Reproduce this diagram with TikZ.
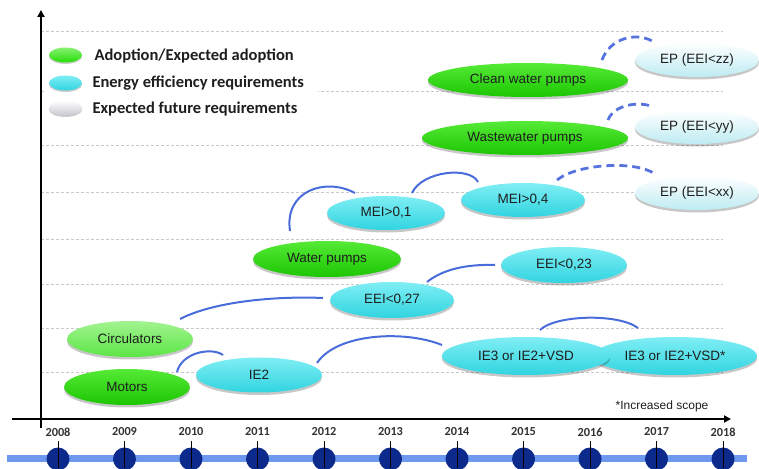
\documentclass[tikz,border=0pt]{standalone}
\usepackage{fontspec}
\setmainfont{Liberation Sans}
\newfontfamily\calib{Carlito}
\usetikzlibrary{shapes.geometric,arrows.meta,shadows,calc}
\definecolor{arcblue}{HTML}{4A6CDB}
\definecolor{dasharc}{HTML}{5673DE}
\definecolor{gtop}{HTML}{55EA36}
\definecolor{gmid}{HTML}{24DD06}
\definecolor{gbot}{HTML}{1CC602}
\definecolor{ctop}{HTML}{80EEF4}
\definecolor{cmid}{HTML}{44E6EF}
\definecolor{cbot}{HTML}{30D4E0}
\definecolor{etop}{HTML}{FFFFFF}
\definecolor{ebot}{HTML}{BDEBF2}
\definecolor{gridgray}{HTML}{C8C8C8}
\definecolor{barblue}{HTML}{6D98EF}
\definecolor{navy}{HTML}{0B2A8C}
\definecolor{txt}{HTML}{1E1E1E}
\begin{document}
\begin{tikzpicture}[x=1pt,y=1pt,
  pill/.style={ellipse, inner sep=0pt, text=txt,
    font=\fontsize{13.5}{15}\selectfont,
    drop shadow={shadow xshift=0pt,shadow yshift=-2.5pt,opacity=0.22,fill=black}},
  greenpill/.style={pill, top color=gtop, middle color=gmid, bottom color=gbot},
  palegreen/.style={pill, top color=gtop!55!white, middle color=gtop!85!white, bottom color=gmid!75!white},
  cyanpill/.style={pill, top color=ctop, middle color=cmid, bottom color=cbot},
  futurepill/.style={pill, top color=etop, middle color=ebot!50!white, bottom color=ebot},
  legpill/.style={ellipse, inner sep=0pt, minimum width=33pt, minimum height=15pt,
    drop shadow={shadow xshift=0pt,shadow yshift=-1.5pt,opacity=0.2,fill=black}},
  legtext/.style={anchor=west, font=\calib\bfseries\fontsize{16.5}{18}\selectfont, text=txt},
  gridline/.style={gridgray, dashed, line width=0.7pt, dash pattern=on 3pt off 2pt},
  axisline/.style={black, line width=2.6pt, -{Triangle[length=7pt,width=7pt]}},
  arcline/.style={arcblue, line width=2pt},
  dasharcline/.style={dasharc, line width=2.8pt, dash pattern=on 8pt off 5pt},
  yearlabel/.style={font=\calib\bfseries\fontsize{12.3}{14}\selectfont, text=black!80}
]
\clip (0,0) rectangle (759,468);
\useasboundingbox (0,0) rectangle (759,468);

% grid lines
\foreach \yy in {437,377,323,276,229,184,140,96}
  \draw[gridline] (41,\yy) -- (723,\yy);

% axes
\coordinate (vbot) at (41,40);
\coordinate (vtop) at (41,458);
\coordinate (hleft) at (12,49);
\coordinate (hright) at (731,49);
\draw[axisline] (vbot) -- (vtop);
\draw[axisline] (hleft) -- (hright);

% timeline bar
\fill[barblue] (7,6) rectangle (747,13.5);
\foreach \i/\yr in {0/2008,1/2009,2/2010,3/2011,4/2012,5/2013,6/2014,7/2015,8/2016,9/2017,10/2018}{
  \pgfmathsetmacro{\xx}{58+66.5*\i}
  \fill[navy] (\xx,9) circle (11.5);
  \draw[black, line width=0.8pt] (\xx,0) -- (\xx,27);
  \node[yearlabel] (yr\yr) at (\xx,36) {\yr};
}

% legend
\fill[white] (45,348) rectangle (318,424);
\node[legpill, top color=gtop!70!white, middle color=gtop, bottom color=gmid] (legG) at (65.5,413) {};
\node[legpill, top color=ctop, middle color=cmid, bottom color=cbot] (legC) at (65.5,385) {};
\node[legpill, top color=white, middle color=white!95!blue, bottom color=blue!8!gray!40] (legW) at (65.5,360) {};
\node[legtext] (legGt) at (91,412) {Adoption/Expected adoption};
\node[legtext] (legCt) at (89,385) {Energy efficiency requirements};
\node[legtext] (legWt) at (89,359) {Expected future requirements};

% nodes
\node[greenpill, minimum width=200pt, minimum height=34pt] (clean) at (528,388) {Clean water pumps};
\node[futurepill, minimum width=124pt, minimum height=34pt] (epzz) at (697,408) {EP (EEI<zz)};
\node[greenpill, minimum width=206pt, minimum height=34pt] (waste) at (525,330) {Wastewater pumps};
\node[futurepill, minimum width=124pt, minimum height=34pt] (epyy) at (697,341) {EP (EEI<yy)};
\node[cyanpill, minimum width=124pt, minimum height=34pt] (mei4) at (523,268) {MEI>0,4};
\node[futurepill, minimum width=124pt, minimum height=34pt] (epxx) at (697,275) {EP (EEI<xx)};
\node[cyanpill, minimum width=118pt, minimum height=34pt] (mei1) at (386,255) {MEI>0,1};
\node[greenpill, minimum width=148pt, minimum height=36pt] (water) at (327,209) {Water pumps};
\node[cyanpill, minimum width=126pt, minimum height=36pt] (eei23) at (564,203) {EEI<0,23};
\node[cyanpill, minimum width=124pt, minimum height=36pt] (eei27) at (392,168) {EEI<0,27};
\node[palegreen, minimum width=126pt, minimum height=36pt] (circ) at (130,129) {Circulators};
\node[greenpill, minimum width=126pt, minimum height=36pt] (motors) at (127,81) {Motors};
\node[cyanpill, minimum width=126pt, minimum height=35pt] (ie2) at (259,93) {IE2};
\node[cyanpill, minimum width=164pt, minimum height=38pt] (ie3s) at (675,112) {IE3 or IE2+VSD*};
\node[cyanpill, minimum width=168pt, minimum height=38pt] (ie3) at (526,112) {IE3 or IE2+VSD};

\node[font=\fontsize{12}{14}\selectfont, text=txt] (scope) at (662,62) {*Increased scope};

% connectors
\draw[arcline] ($(motors)+(50,15)$) .. controls +(5,20) and +(-11,8) .. ($(ie2)+(-36,20)$);
\draw[arcline] ($(circ)+(50,20)$) .. controls +(35,18) and +(-45,2) .. ($(eei27)+(-69,2)$);
\draw[arcline] ($(ie2)+(58,12)$) .. controls +(20,30) and +(-37,15) .. ($(ie3)+(-84,11)$);
\draw[arcline] ($(ie3)+(14,26)$) .. controls +(15,15) and +(-20,15) .. ($(ie3s)+(-37,28)$);
\draw[arcline] ($(eei27)+(35,18)$) .. controls +(15,12) and +(-30,1) .. ($(eei23)+(-69,0)$);
\draw[arcline] ($(water)+(-37,28)$) .. controls +(-6,40) and +(-30,16) .. ($(mei1)+(-31,20)$);
\draw[arcline] ($(mei1)+(26,20)$) .. controls +(10,22) and +(-8,16) .. ($(mei4)+(-45,18)$);
\draw[dasharcline] ($(mei4)+(34,20)$) .. controls +(20,16) and +(-20,14) .. ($(epxx)+(-42,19)$);
\draw[dasharcline] ($(waste)+(83,18)$) .. controls +(6,16) and +(-12,6) .. ($(epyy)+(-44,20)$);
\draw[dasharcline] ($(clean)+(74,20)$) .. controls +(8,22) and +(-16,9) .. ($(epzz)+(-45,19)$);
\end{tikzpicture}
\end{document}
